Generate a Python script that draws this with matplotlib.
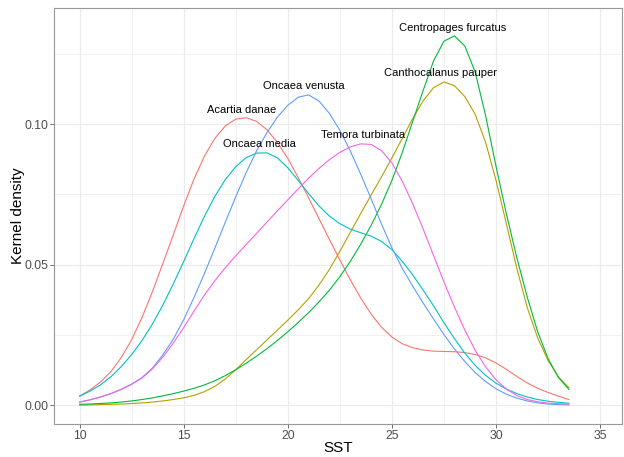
import numpy as np
import matplotlib
matplotlib.use('Agg')
import matplotlib.pyplot as plt

plt.rcParams['font.family'] = ['Liberation Sans', 'DejaVu Sans']

# SST grid the densities were read on (0.5 steps)
sst = np.arange(10, 34, 0.5)

species = ['Acartia danae', 'Canthocalanus pauper', 'Centropages furcatus',
           'Oncaea media', 'Oncaea venusta', 'Temora turbinata']
colors = ['#F8766D', '#B79F00', '#00BA38', '#00BFC4', '#619CFF', '#F564E3']

acartia = [.0033, .0055, .0083, .0120, .0170, .0234, .0313, .0405, .0505, .0607,
           .0710, .0806, .0887, .0950, .0994, .1018, .1023, .1010, .0980, .0935,
           .0878, .0810, .0738, .0664, .0590, .0517, .0447, .0382, .0325, .0278,
           .0243, .0219, .0205, .0197, .0193, .0192, .0191, .0188, .0181, .0169,
           .0151, .0128, .0103, .0080, .0061, .0046, .0033, .0021]
canthocalanus = [.0001, .0002, .0003, .0004, .0005, .0007, .0009, .0012, .0016, .0021,
                 .0027, .0036, .0049, .0068, .0094, .0127, .0163, .0198, .0233, .0268,
                 .0303, .0340, .0380, .0428, .0484, .0548, .0615, .0682, .0748, .0813,
                 .0880, .0950, .1020, .1083, .1130, .1150, .1137, .1098, .1035, .0935,
                 .0800, .0645, .0487, .0348, .0240, .0160, .0101, .0063]
centropages = [.0004, .0005, .0007, .0009, .0012, .0016, .0021, .0027, .0034, .0042,
               .0051, .0061, .0073, .0088, .0106, .0127, .0150, .0175, .0202, .0231,
               .0262, .0295, .0330, .0368, .0410, .0458, .0512, .0573, .0640, .0715,
               .0800, .0900, .1010, .1120, .1225, .1295, .1314, .1278, .1185, .1030,
               .0850, .0680, .0525, .0385, .0262, .0166, .0099, .0057]
oncaea_media = [.0033, .0051, .0073, .0102, .0138, .0181, .0231, .0290, .0357, .0432,
                .0512, .0594, .0673, .0744, .0803, .0849, .0881, .0897, .0898, .0880,
                .0845, .0800, .0753, .0709, .0673, .0646, .0627, .0614, .0602, .0583,
                .0554, .0512, .0464, .0410, .0354, .0294, .0238, .0186, .0142, .0107,
                .0079, .0058, .0042, .0030, .0021, .0015, .0011, .0008]
oncaea_venusta = [.0012, .0020, .0030, .0042, .0057, .0076, .0099, .0133, .0180, .0236,
                  .0305, .0385, .0470, .0560, .0652, .0742, .0828, .0905, .0970, .1025,
                  .1067, .1096, .1104, .1082, .1038, .0978, .0905, .0822, .0735, .0645,
                  .0560, .0487, .0424, .0364, .0307, .0252, .0201, .0156, .0117, .0085,
                  .0059, .0040, .0026, .0016, .0009, .0005, .0003, .0002]
temora = [.0012, .0020, .0030, .0042, .0057, .0075, .0098, .0130, .0172, .0222,
          .0277, .0336, .0393, .0444, .0490, .0532, .0572, .0612, .0652, .0692,
          .0731, .0770, .0808, .0843, .0874, .0900, .0919, .0930, .0928, .0906,
          .0862, .0797, .0717, .0627, .0533, .0439, .0350, .0268, .0196, .0137,
          .0091, .0058, .0035, .0021, .0013, .0008, .0006, .0005]

densities = [acartia, canthocalanus, centropages, oncaea_media, oncaea_venusta, temora]

# label anchor = peak of each curve
peak_x = [17.8, 27.35, 27.9, 18.65, 20.75, 23.6]
peak_y = [0.1023, 0.1152, 0.1315, 0.0900, 0.1108, 0.0933]

fig = plt.figure(figsize=(6.24, 4.57), dpi=100)
ax = fig.add_axes([54 / 624, 1 - 424 / 457, 568 / 624, 416 / 457])

for dens, col in zip(densities, colors):
    ax.plot(sst, dens, color=col, lw=0.8)

for name, px, py in zip(species, peak_x, peak_y):
    ax.annotate(name, (px, py), xytext=(0, 8), textcoords='offset pixels',
                ha='center', va='center', fontsize=8, color='black')

ax.set_xlim(8.77, 36.05)
ax.set_ylim(-0.0066, 0.1413)
ax.set_xticks([10, 15, 20, 25, 30, 35])
ax.set_xticks(np.arange(12.5, 36, 5), minor=True)
ax.set_yticks([0, 0.05, 0.10])
ax.set_yticklabels(['0.00', '0.05', '0.10'])
ax.set_yticks([0.025, 0.075, 0.125], minor=True)

ax.grid(which='major', color='#EBEBEB', lw=0.8)
ax.grid(which='minor', color='#EBEBEB', lw=0.5)
ax.set_axisbelow(True)

for s in ax.spines.values():
    s.set_color('#999999')
    s.set_linewidth(0.8)

ax.tick_params(which='major', length=2.9, width=0.6, color='#555555',
               labelsize=8.8, labelcolor='#4D4D4D', pad=1.2)
ax.tick_params(which='minor', length=0)

ax.set_xlabel('SST', fontsize=11, va='center')
ax.set_ylabel('Kernel density', fontsize=11, va='center')
ax.xaxis.set_label_coords(0.5, (424 - 448) / 416)
ax.yaxis.set_label_coords((18 - 54) / 568, 0.5)

fig.savefig('out.png', dpi=100)
